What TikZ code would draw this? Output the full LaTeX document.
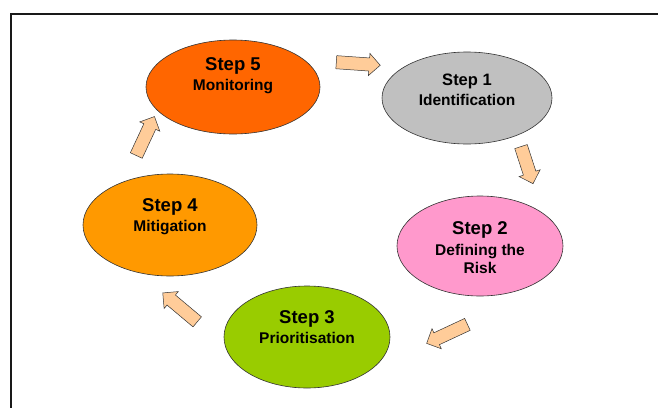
\documentclass[tikz,border=0pt]{standalone}
\usepackage{fontspec}
\setmainfont{Liberation Sans}
\usetikzlibrary{shapes.geometric,shapes.arrows}
\definecolor{c5}{HTML}{FF6600}
\definecolor{c1}{HTML}{C0C0C0}
\definecolor{c2}{HTML}{FF99CC}
\definecolor{c3}{HTML}{99CC00}
\definecolor{c4}{HTML}{FF9900}
\definecolor{peach}{HTML}{FFCC99}
\definecolor{edge}{HTML}{333333}
\tikzset{
  stepoval/.style={ellipse, draw=edge, line width=0.6pt, inner sep=0pt},
  steptext/.style={align=center, font=\bfseries\fontsize{15.5}{20}\selectfont, inner sep=0pt, text=black},
  blockarrow/.style={single arrow, draw=edge, line width=0.5pt, fill=peach,
    inner xsep=0pt, inner ysep=6.3pt, single arrow head extend=4.5pt,
    single arrow tip angle=90, minimum height=#1},
}
\newcommand{\bigline}[1]{{\fontsize{18.5}{20}\selectfont #1}}
\begin{document}
\begin{tikzpicture}[x=1pt,y=-1pt]
\useasboundingbox (0,0) rectangle (658,407);
\clip (0,0) rectangle (658,407);
\draw[line width=2pt, draw=black!90] (11,14) rectangle (700,450);

\node[stepoval, fill=c5, minimum width=174pt, minimum height=94pt] (s5) at (233,87) {};
\node[stepoval, fill=c1, minimum width=170pt, minimum height=92pt] (s1) at (467,98) {};
\node[stepoval, fill=c2, minimum width=166pt, minimum height=100pt] (s2) at (480,246) {};
\node[stepoval, fill=c3, minimum width=166pt, minimum height=102pt] (s3) at (307,337) {};
\node[stepoval, fill=c4, minimum width=174pt, minimum height=102pt] (s4) at (170,225) {};

\node[steptext] (t5) at ([yshift=11pt]s5.center) {\bigline{Step 5}\\Monitoring};
\node[steptext] (t1) at ([yshift=8pt]s1.center) {{\fontsize{16.5}{18}\selectfont Step 1}\\Identification};
\node[steptext] (t2) at ([yshift=-2pt]s2.center) {\bigline{Step 2}\\[1pt]Defining the\\[-2pt]Risk};
\node[steptext] (t3) at ([yshift=9.5pt]s3.center) {\bigline{Step 3}\\Prioritisation};
\node[steptext] (t4) at ([yshift=8.5pt]s4.center) {\bigline{Step 4}\\Mitigation};

\node[blockarrow=44pt, rotate=-4] (a51) at (355,63.5) {};
\node[blockarrow=39pt, rotate=-72] (a12) at (526,162) {};
\node[blockarrow=45pt, rotate=205] (a23) at (450,332.5) {};
\node[blockarrow=45pt, rotate=140] (a34) at (182.5,309.5) {};
\node[blockarrow=43pt, rotate=65] (a45) at (144,139) {};
\end{tikzpicture}
\end{document}
